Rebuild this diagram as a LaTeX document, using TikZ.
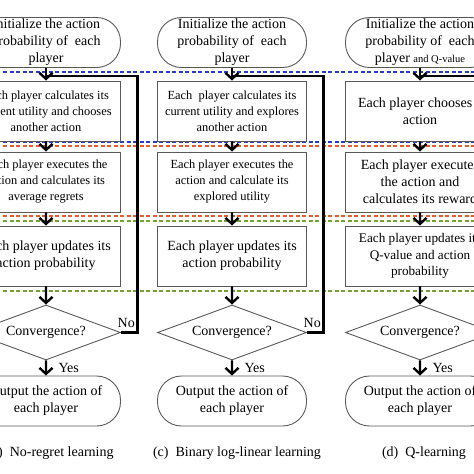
\documentclass[tikz,border=0pt]{standalone}
\usepackage{fontspec}
\setmainfont{Liberation Serif}
\usetikzlibrary{shapes.geometric,arrows.meta}
\newcommand{\bigtxt}{\fontsize{14}{17}\selectfont}
\newcommand{\midtxt}{\fontsize{13.2}{16.5}\selectfont}
\newcommand{\smalltxt}{\fontsize{12.4}{16}\selectfont}
\definecolor{sepblue}{RGB}{40,60,200}
\definecolor{sepred}{RGB}{228,92,44}
\definecolor{sepgreen}{RGB}{120,160,50}
\begin{document}
\begin{tikzpicture}[x=1pt,y=-1pt,
	every node/.style={align=center,font=\bigtxt},
	endbox/.style={draw=black!65,line width=0.9pt,rounded corners=24pt,minimum width=149pt,minimum height=50pt,inner ysep=1pt},
	stepbox/.style={draw=black!65,line width=0.9pt,minimum width=149pt,minimum height=60pt,inner ysep=1pt,font=\smalltxt},
	testbox/.style={diamond,aspect=2.7,draw=black!65,line width=0.9pt,minimum width=149pt,minimum height=55pt,inner sep=0pt},
	sepline/.style={line width=2pt,dash pattern=on 4pt off 2.5pt},
	loopline/.style={line width=2.6pt},
	edge from parent/.style={draw,line width=2.4pt,-{Straight Barb[length=6pt,width=13pt]}},
	level 1/.style={level distance=68.5pt},
	level 2/.style={level distance=71pt},
	level 3/.style={level distance=74pt},
	level 4/.style={level distance=76.5pt},
	level 5/.style={level distance=68.5pt}]
\useasboundingbox (0,0) rectangle (474,474);
\clip (0,0) rectangle (474,474);
% phase separators
\foreach \yy/\cc in {72/sepblue,141.5/sepblue,146/sepred,216/sepred,220.5/sepgreen,291/sepgreen}
	\draw[sepline,\cc] (-10,\yy) -- (484,\yy);
% (b) no-regret learning
\node[endbox] (ia) at (46,42.5) {Initialize the action\\probability of~ each\\player}
child {node[stepbox] (a1) {Each player calculates its\\current utility and chooses\\another action}
	child {node[stepbox] (a2) {Each player executes the\\action and calculates its\\average regrets}
		child {node[stepbox,font=\bigtxt] (a3) {Each player updates its\\action probability}
			child {node[testbox] (da) {Convergence?}
				child {node[endbox] (oa) {Output the action of\\each player}
					edge from parent node[right,xshift=8pt] (ya) {Yes}}
				}
			}
		}
	};
% (c) binary log-linear learning
\node[endbox] (ib) at (232,42.5) {Initialize the action\\probability of~ each\\player}
child {node[stepbox] (b1) {Each~ player calculates its\\current utility and explores\\another action}
	child {node[stepbox] (b2) {Each player executes the\\action and calculate its\\explored utility}
		child {node[stepbox,font=\bigtxt] (b3) {Each player updates its\\action probability}
			child {node[testbox] (db) {Convergence?}
				child {node[endbox] (ob) {Output the action of\\each player}
					edge from parent node[right,xshift=8pt] (yb) {Yes}}
				}
			}
		}
	};
% (d) Q-learning
\node[endbox] (ic) at (420,42.5) {Initialize the action\\probability of~ each\\player {\fontsize{10.5}{17}\selectfont and Q-value}}
child {node[stepbox,font=\bigtxt] (c1) {Each player chooses a\\action}
	child {node[stepbox,font=\bigtxt] (c2) {Each player executes\\the action and\\calculates its reward}
		child {node[stepbox,font=\midtxt] (c3) {Each player updates its\\Q-value and action\\probability}
			child {node[testbox] (dc) {Convergence?}
				child {node[endbox] (oc) {Output the action of\\each player}
					edge from parent node[right,xshift=8pt] (yc) {Yes}}
				}
			}
		}
	};
% feedback loops
\coordinate (ja) at (46,76);
\coordinate (jb) at (232,76);
\coordinate (jc) at (420,76);
\draw[loopline] (da.east) -- ++(16.5,0) node[midway,above,xshift=-3pt] (na) {No} |- (ja);
\draw[loopline] (db.east) -- ++(16.5,0) node[midway,above,xshift=-3pt] (nb) {No} |- (jb);
\draw[loopline] (dc.east) -- ++(16.5,0) node[midway,above,xshift=-3pt] (nc) {No} |- (jc);
% captions
\node[anchor=base] (capa) at (50,456) {(b)\ \ No-regret learning};
\node[anchor=base] (capb) at (237,456) {(c)\ \ Binary log-linear learning};
\node[anchor=base] (capc) at (424,456) {(d)\ \ Q-learning};
\end{tikzpicture}
\end{document}
